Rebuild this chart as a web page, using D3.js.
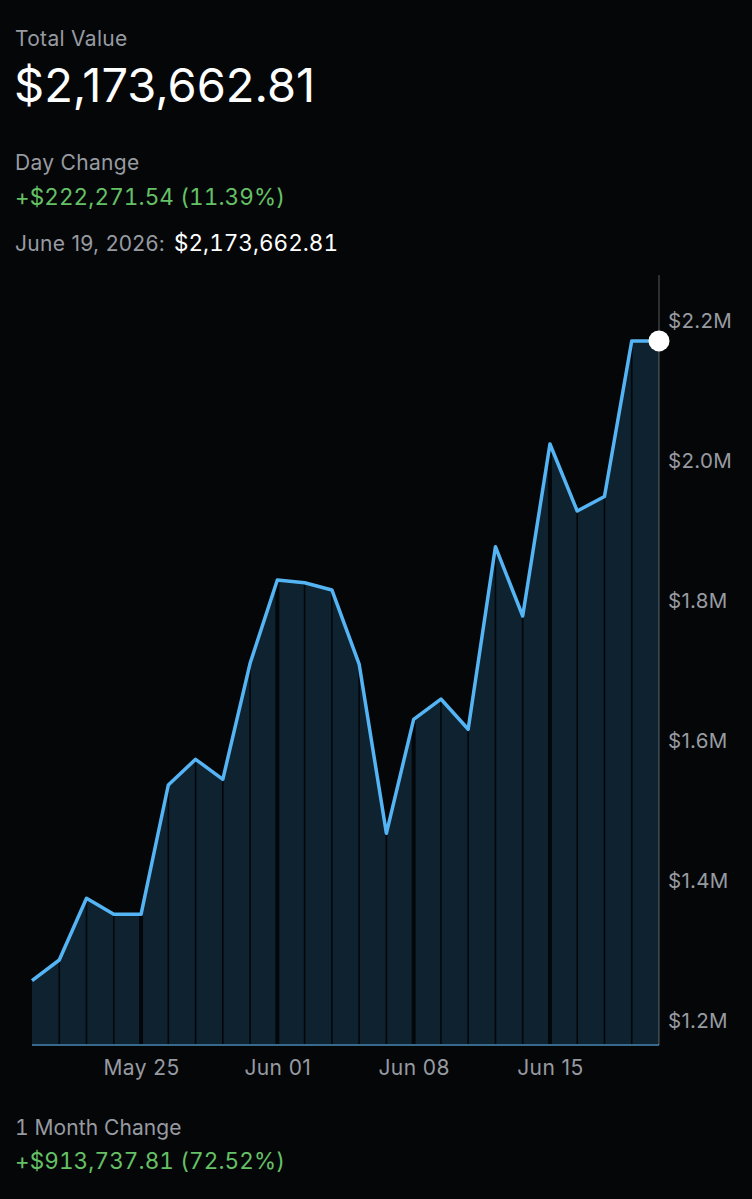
<!DOCTYPE html>
<html>
<head>
<meta charset="utf-8">
<script src="https://cdn.jsdelivr.net/npm/d3@7"></script>
<style>
  html, body { margin: 0; padding: 0; background: #050608; }
  svg { display: block; font-family: Inter, "Noto Sans", sans-serif; }
  .num { font-variant-numeric: tabular-nums; }
</style>
</head>
<body>
<div id="chart"></div>
<script>
// trading days shown on the chart
const dates = [
  "2026-05-19","2026-05-20","2026-05-21","2026-05-22",
  "2026-05-25","2026-05-26","2026-05-27","2026-05-28","2026-05-29",
  "2026-06-01","2026-06-02","2026-06-03","2026-06-04","2026-06-05",
  "2026-06-08","2026-06-09","2026-06-10","2026-06-11","2026-06-12",
  "2026-06-15","2026-06-16","2026-06-17","2026-06-18","2026-06-19"
]
const values = [
  1259925, 1289300, 1377400, 1354600,
  1354600, 1539300, 1576000, 1547400, 1713100,
  1832100, 1828300, 1817900, 1712100, 1470300,
  1633100, 1662100, 1618900, 1879700, 1780700,
  2026400, 1930700, 1951391, 2173663, 2173663
]
const xTicks = ["2026-05-25","2026-06-01","2026-06-08","2026-06-15"]
const yTicks = [1200000, 1400000, 1600000, 1800000, 2000000, 2200000]

const header = {
  title: "Total Value",
  total: "$2,173,662.81",
  dayLabel: "Day Change",
  dayChange: "+$222,271.54 (11.39%)",
  dateLabel: "June 19, 2026:",
  dateValue: "$2,173,662.81",
  monthLabel: "1 Month Change",
  monthChange: "+$913,737.81 (72.52%)"
}

const width = 752
const height = 1199
const gray = "#979ba1"
const green = "#65c166"
const base = 1045

const parse = d3.timeParse("%Y-%m-%d")
const data = dates.map((d, i) => ({date: d, value: values[i]}))

const svg = d3.select("#chart")
  .append("svg")
  .attr("width", width)
  .attr("height", height)

svg.append("rect")
  .attr("width", width)
  .attr("height", height)
  .attr("fill", "#050608")

// header texts
const txt = (s, x, y, size, color, ls, tnum) => svg.append("text")
  .attr("class", tnum ? "num" : null)
  .attr("x", x).attr("y", y)
  .attr("font-size", size)
  .attr("letter-spacing", ls || 0)
  .attr("fill", color)
  .text(s)

txt(header.title, 15, 46, 21, gray, 0.3)
txt(header.total, 14, 102, 47, "#ffffff", 0)
txt(header.dayLabel, 15, 170, 21, gray, 0.3)
txt(header.dayChange, 15, 205, 22.5, green, 0.1, true)
const dl = txt(header.dateLabel, 15, 251, 21, gray, 0.3)
txt(header.dateValue, 15 + dl.node().getComputedTextLength() + 9, 251, 22.5, "#ffffff", 0, true)
txt(header.monthLabel, 15, 1135, 21, gray, 0.1, true)
txt(header.monthChange, 15, 1169, 22.5, green, 0.1, true)

// scales
const x = d3.scalePoint()
  .domain(dates)
  .range([32, 659])

const y = d3.scaleLinear()
  .domain([1200000, 2200000])
  .range([1022.5, 322.5])

// area under the line
svg.append("path")
  .datum(data)
  .attr("fill", "#0e2230")
  .attr("d", d3.area()
    .x(d => x(d.date))
    .y0(base)
    .y1(d => y(d.value)))

// day separators
svg.selectAll("line.sep")
  .data(data.slice(1, -1))
  .join("line")
  .attr("class", "sep")
  .attr("x1", d => x(d.date))
  .attr("x2", d => x(d.date))
  .attr("y1", d => y(d.value))
  .attr("y2", base)
  .attr("stroke", "#04070a")
  .attr("stroke-width", d => xTicks.includes(d.date) ? 4 : 1.6)

// baseline
svg.append("line")
  .attr("x1", x(dates[0]))
  .attr("x2", x(dates[dates.length - 1]))
  .attr("y1", base)
  .attr("y2", base)
  .attr("stroke", "#37698d")
  .attr("stroke-width", 2)

// right axis line
svg.append("line")
  .attr("x1", 659).attr("x2", 659)
  .attr("y1", 275).attr("y2", base)
  .attr("stroke", "#ffffff")
  .attr("stroke-opacity", 0.28)
  .attr("stroke-width", 1.2)

// value line
svg.append("path")
  .datum(data)
  .attr("fill", "none")
  .attr("stroke", "#55b4f4")
  .attr("stroke-width", 3.5)
  .attr("stroke-linejoin", "round")
  .attr("d", d3.line()
    .x(d => x(d.date))
    .y(d => y(d.value)))

// last point marker
const last = data[data.length - 1]
svg.append("circle")
  .attr("cx", x(last.date))
  .attr("cy", y(last.value))
  .attr("r", 10.5)
  .attr("fill", "#ffffff")

// Y axis
const yAxis = svg.append("g")
  .attr("transform", "translate(659,0)")
  .call(d3.axisRight(y)
    .tickValues(yTicks)
    .tickSize(0)
    .tickPadding(9)
    .tickFormat(d => "$" + (d / 1e6).toFixed(1) + "M"))
yAxis.select(".domain").remove()
yAxis.selectAll("text")
  .attr("fill", gray)
  .attr("font-size", 20.5)
  .attr("letter-spacing", 0.3)
  .attr("font-family", "Inter, sans-serif")
  .attr("dy", "0.25em")

// X axis
const fmt = d3.timeFormat("%b %d")
const xAxis = svg.append("g")
  .attr("transform", `translate(0,${base})`)
  .call(d3.axisBottom(x)
    .tickValues(xTicks)
    .tickSize(0)
    .tickPadding(15)
    .tickFormat(d => fmt(parse(d))))
xAxis.select(".domain").remove()
xAxis.selectAll("text")
  .attr("fill", gray)
  .attr("font-size", 21)
  .attr("letter-spacing", 0.4)
  .attr("font-family", "Inter, sans-serif")
</script>
</body>
</html>
